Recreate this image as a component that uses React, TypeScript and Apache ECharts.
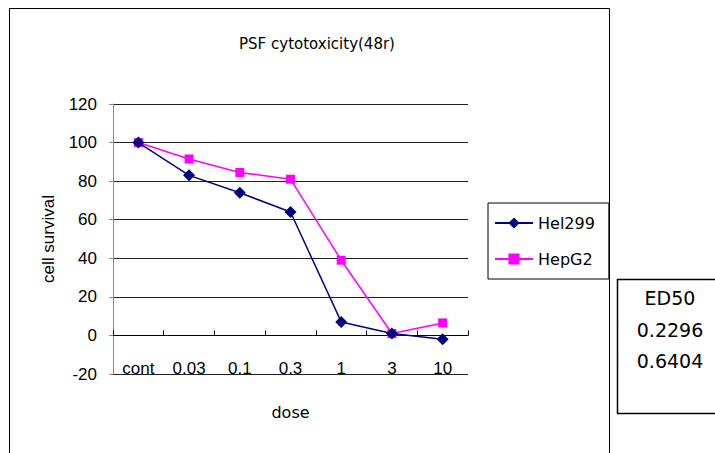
import React, { useEffect, useRef } from "react";
import * as echarts from "echarts";

const categories = ["cont", "0.03", "0.1", "0.3", "1", "3", "10"];
const hel299 = [100, 83, 74, 64, 7, 1, -2];
const hepG2 = [100, 91.5, 84.5, 81, 39, 1, 6.5];
const seriesNames = ["Hel299", "HepG2"];
const edTitle = "ED50";
const edValues = ["0.2296", "0.6404"];

export default function App() {
  const ref = useRef<HTMLDivElement>(null);
  useEffect(() => {
    if (!ref.current) return;
    const chart = echarts.init(ref.current, undefined, { renderer: "svg" });
    const sans = "Liberation Sans";
    const round = "DejaVu Sans";
    chart.setOption({
      animation: false,
      backgroundColor: "#ffffff",
      title: {
        text: "PSF cytotoxicity(48r)",
        left: 312,
        top: 31,
        textAlign: "center",
        textStyle: { fontFamily: round, fontSize: 15, fontWeight: "normal", color: "#000" },
      },
      grid: { left: 113, top: 104, right: 247, bottom: 79, outerBoundsMode: "none", containLabel: false },
      legend: {
        orient: "vertical",
        left: 488,
        top: 203,
        padding: [12, 14, 12, 6],
        itemGap: 20,
        itemWidth: 38,
        itemHeight: 14,
        borderColor: "#000",
        borderWidth: 1,
        textStyle: { fontFamily: round, fontSize: 16, color: "#000" },
        data: seriesNames,
      },
      xAxis: {
        type: "category",
        data: categories,
        boundaryGap: true,
        name: "dose",
        nameLocation: "middle",
        nameGap: 30,
        nameTextStyle: { fontFamily: round, fontSize: 16, color: "#000" },
        axisLine: { onZero: true, lineStyle: { color: "#000", width: 1 } },
        axisTick: { show: true, inside: true, length: 5, lineStyle: { color: "#000" } },
        axisLabel: { margin: -14, fontFamily: sans, fontSize: 17, color: "#000" },
        splitLine: { show: false },
      },
      yAxis: {
        type: "value",
        min: -20,
        max: 120,
        interval: 20,
        name: "cell survival",
        nameLocation: "middle",
        nameGap: 56,
        nameTextStyle: { fontFamily: sans, fontSize: 17, color: "#000" },
        axisLine: { show: true, lineStyle: { color: "#888", width: 1 } },
        axisTick: { show: true, length: 4, lineStyle: { color: "#888" } },
        axisLabel: { margin: 16, fontFamily: sans, fontSize: 17, color: "#000" },
        splitLine: { show: true, lineStyle: { color: "#222", width: 1 } },
      },
      series: [
        {
          name: seriesNames[0],
          type: "line",
          data: hel299,
          symbol: "diamond",
          symbolSize: 12,
          itemStyle: { color: "#000080" },
          lineStyle: { color: "#000080", width: 1.5 },
          z: 3,
        },
        {
          name: seriesNames[1],
          type: "line",
          data: hepG2,
          symbol: "rect",
          symbolSize: 9,
          itemStyle: { color: "#ff00ff" },
          lineStyle: { color: "#ff00ff", width: 1.5 },
          z: 2,
        },
      ],
      graphic: [
        {
          type: "rect",
          shape: { x: 9.5, y: 8.5, width: 600, height: 470 },
          style: { fill: "none", stroke: "#000", lineWidth: 1 },
          silent: true,
        },
        {
          type: "rect",
          shape: { x: 617.5, y: 279.5, width: 120, height: 134 },
          style: { fill: "none", stroke: "#000", lineWidth: 1.5 },
          silent: true,
        },
        {
          type: "text",
          x: 670,
          y: 298,
          style: { text: edTitle, fontFamily: round, fontSize: 19, fill: "#000", align: "center", verticalAlign: "middle" },
        },
        {
          type: "text",
          x: 670,
          y: 330,
          style: { text: edValues[0], fontFamily: round, fontSize: 19, fill: "#000", align: "center", verticalAlign: "middle" },
        },
        {
          type: "text",
          x: 670,
          y: 361,
          style: { text: edValues[1], fontFamily: round, fontSize: 19, fill: "#000", align: "center", verticalAlign: "middle" },
        },
      ],
    });
    return () => chart.dispose();
  }, []);
  return (
    <div
      ref={ref}
      style={{ position: "fixed", left: 0, top: 0, width: 715, height: 453 }}
    />
  );
}
